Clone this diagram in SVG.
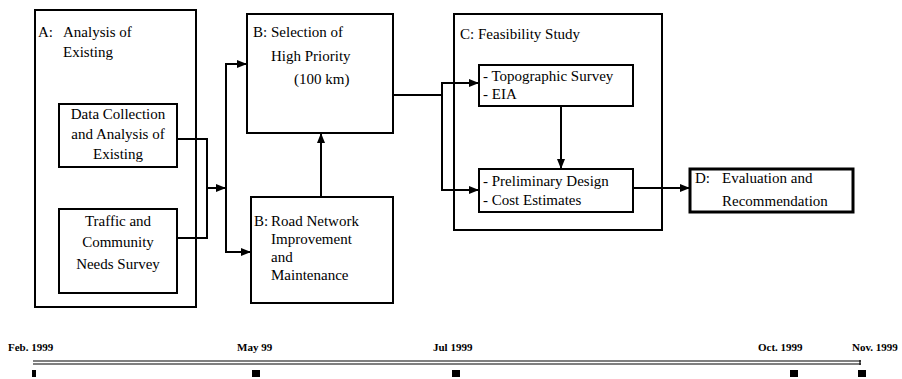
<svg xmlns="http://www.w3.org/2000/svg" width="902" height="379" viewBox="0 0 902 379">
<defs>
<marker id="ah" markerWidth="10" markerHeight="8" refX="10" refY="4" orient="auto" markerUnits="userSpaceOnUse">
<path d="M0,0 L10,4 L0,8 Z" fill="#000"/>
</marker>
<style>
.box{fill:#fff;stroke:#000;stroke-width:2}
.thick{stroke-width:3}
.t{font-family:"Liberation Serif","Times New Roman",serif;font-size:15px;fill:#000}
.tl{font-family:"Liberation Serif","Times New Roman",serif;font-size:11px;font-weight:bold;fill:#000}
.c{fill:none;stroke:#000;stroke-width:2}
.tline{stroke:#000;stroke-width:1.2}
</style>
</defs>
<rect width="902" height="379" fill="#fff"/>

<g id="nodeA">
<rect class="box" x="35" y="10" width="161" height="297"/>
<text class="t" y="37"><tspan x="38">A:</tspan><tspan x="63">Analysis of</tspan></text>
<text class="t" x="63" y="57">Existing</text>
</g>
<g id="nodeA1">
<rect class="box" x="59" y="104" width="118" height="63"/>
<text class="t" x="118" y="119" text-anchor="middle">Data Collection</text>
<text class="t" x="118" y="139" text-anchor="middle">and Analysis of</text>
<text class="t" x="118" y="159" text-anchor="middle">Existing</text>
</g>
<g id="nodeA2">
<rect class="box" x="59" y="209" width="118" height="84"/>
<text class="t" x="118" y="226" text-anchor="middle">Traffic and</text>
<text class="t" x="118" y="247" text-anchor="middle">Community</text>
<text class="t" x="118" y="269" text-anchor="middle">Needs Survey</text>
</g>
<g id="nodeB1">
<rect class="box" x="247" y="14" width="146" height="119"/>
<text class="t" y="37"><tspan x="253">B:</tspan><tspan x="271">Selection of</tspan></text>
<text class="t" x="271" y="61">High Priority</text>
<text class="t" x="294" y="84">(100 km)</text>
</g>
<g id="nodeB2">
<rect class="box" x="251" y="197" width="142" height="106"/>
<text class="t" y="226"><tspan x="254">B:</tspan><tspan x="271">Road Network</tspan></text>
<text class="t" x="271" y="244">Improvement</text>
<text class="t" x="271" y="262">and</text>
<text class="t" x="271" y="280">Maintenance</text>
</g>
<g id="nodeC">
<rect class="box" x="454" y="14" width="208" height="216"/>
<text class="t" y="39"><tspan x="460">C:</tspan><tspan x="478">Feasibility Study</tspan></text>
</g>
<g id="nodeC1">
<rect class="box" x="479" y="65" width="154" height="41"/>
<text class="t" x="483" y="81">- Topographic Survey</text>
<text class="t" x="483" y="99">- EIA</text>
</g>
<g id="nodeC2">
<rect class="box" x="479" y="169" width="154" height="43"/>
<text class="t" x="483" y="186">- Preliminary Design</text>
<text class="t" x="483" y="205">- Cost Estimates</text>
</g>
<g id="nodeD">
<rect class="box thick" x="690" y="169" width="163" height="43"/>
<text class="t" y="183"><tspan x="695">D:</tspan><tspan x="722">Evaluation and</tspan></text>
<text class="t" x="722" y="206">Recommendation</text>
</g>

<g id="connectors">
<polyline class="c" points="177,139 207,139 207,238 177,238"/>
<line class="c" x1="207" y1="188" x2="226" y2="188" marker-end="url(#ah)"/>
<line class="c" x1="226" y1="64" x2="226" y2="252"/>
<line class="c" x1="225" y1="64" x2="247" y2="64" marker-end="url(#ah)"/>
<line class="c" x1="225" y1="252" x2="251" y2="252" marker-end="url(#ah)"/>
<line class="c" x1="321" y1="197" x2="321" y2="133" marker-end="url(#ah)"/>
<line class="c" x1="393" y1="95" x2="442" y2="95"/>
<line class="c" x1="442" y1="83" x2="442" y2="190"/>
<line class="c" x1="441" y1="83" x2="479" y2="83" marker-end="url(#ah)"/>
<line class="c" x1="441" y1="190" x2="479" y2="190" marker-end="url(#ah)"/>
<line class="c" x1="561" y1="106" x2="561" y2="169" marker-end="url(#ah)"/>
<line class="c" x1="633" y1="188" x2="690" y2="188" marker-end="url(#ah)"/>
</g>

<g id="timeline">
<text class="tl" x="8" y="351">Feb. 1999</text>
<text class="tl" x="237" y="351">May 99</text>
<text class="tl" x="433" y="351">Jul 1999</text>
<text class="tl" x="758" y="351">Oct. 1999</text>
<text class="tl" x="852" y="351">Nov. 1999</text>
<line class="tline" x1="33" y1="361" x2="861" y2="361"/>
<line class="tline" x1="33" y1="364" x2="861" y2="364"/>
<line class="tline" x1="860" y1="360" x2="860" y2="365"/>
<rect x="32" y="370" width="4" height="7" fill="#000"/>
<rect x="252" y="370" width="8" height="7" fill="#000"/>
<rect x="452" y="370" width="8" height="7" fill="#000"/>
<rect x="790" y="370" width="8" height="7" fill="#000"/>
<rect x="858" y="370" width="8" height="7" fill="#000"/>
</g>
</svg>
